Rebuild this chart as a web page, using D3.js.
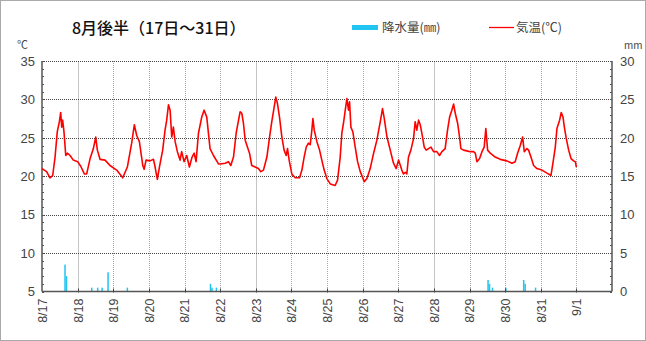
<!DOCTYPE html>
<html><head><meta charset="utf-8">
<script src="https://cdn.jsdelivr.net/npm/d3@7"></script>
<style>
html,body{margin:0;padding:0;background:#fff;}
svg{display:block;}
text{font-family:"Noto Sans CJK JP","Noto Sans",sans-serif;}
</style></head>
<body><svg id="c" width="646" height="341"></svg>
<script>
// ---- data (hours since 8/17 00:00) ----
const tempHours = [0,3.1,5.4,7.2,8.8,10.3,11.7,12.6,13.3,13.9,14.8,16.0,17.1,18.9,21.1,24.0,26.1,28.5,30.1,32.4,34.6,36.2,37.3,39.1,42.5,45.8,50.3,54.4,57.5,60.4,62.2,63.8,65.6,67.9,68.8,70.1,72.8,75.1,76.2,77.7,79.1,81.3,82.9,84.0,85.2,86.3,87.4,88.5,89.7,91.2,93.0,94.1,95.7,97.5,99.3,101.1,102.5,103.8,105.4,107.6,109.2,111.0,113.2,115.5,118.9,
120,123.4,125.6,127.2,129.0,130.8,132.4,133.5,134.6,135.7,136.9,138.4,139.8,141.3,143.6,145.8,147.4,149.2,151.5,153.3,154.8,156.4,157.5,158.6,160.0,161.6,163.1,164.5,165.4,166.5,168.3,170.6,173.5,175.1,176.6,178.0,179.5,180.7,181.8,182.5,183.4,185.2,187.0,188.5,190.1,191.9,194.2,197.5,199.1,200.9,202.0,203.1,204.3,205.4,206.5,207.2,208.1,209.4,211.0,212.6,214.4,217.1,218.9,221.1,223.4,225.6,227.9,229.4,230.6,232.4,234.6,236.8,238.6,240.2,
242.4,243.5,244.7,245.8,246.9,248.5,250.3,251.4,252.5,253.7,254.8,255.9,257.5,258.8,260.4,262.0,263.8,266.0,267.8,269.4,271.6,273.2,274.6,276.1,277.3,278.4,280.0,281.3,282.2,284.0,286.2,288.5,290.7,291.9,293.0,294.8,296.4,297.9,299.0,300.2,302.0,305.3,308.7,313.2,316.6,318.8,320.4,322.2,323.8,324.9,326.7,327.8,329.4,331.2,333.4,336.8,340.2,342.9,344.2,345.8,346.9,348.7,349.8,351.0,351.9,353.2,354.8,356.4,358.1,359.3,360.0];
const tempValues = [21.0,20.6,19.8,20.1,22.5,25.8,27.1,28.3,26.4,27.3,25.8,22.7,23.0,22.7,22.1,21.9,21.3,20.3,20.3,22.3,23.6,25.1,23.4,22.2,22.1,21.4,20.8,19.8,21.2,24.3,26.7,25.3,24.5,21.4,20.9,22.1,22.0,22.2,21.2,19.6,21.2,23.4,26.0,27.3,29.3,28.6,25.1,26.4,24.5,23.2,22.1,23.2,21.9,22.7,21.2,22.5,23.0,21.9,25.6,27.7,28.6,27.7,23.6,22.7,21.6,
21.6,21.7,21.9,21.4,22.5,25.6,27.3,28.4,28.2,26.9,24.7,23.8,23.0,21.4,21.2,21.0,20.6,20.8,22.5,25.1,27.1,29.0,30.3,29.5,27.7,25.1,23.4,22.7,23.6,22.1,20.3,19.8,19.8,20.8,22.5,23.8,24.3,24.1,26.0,27.5,26.0,24.5,23.4,22.1,20.8,19.7,19.0,18.8,19.5,22.5,25.6,26.9,28.6,30.1,28.6,29.7,26.4,25.8,23.8,21.9,20.6,19.3,19.7,21.0,23.0,24.7,27.1,28.8,27.5,25.1,23.4,21.7,21.0,22.1,
20.8,20.3,20.5,20.3,22.5,23.4,24.9,27.1,26.0,27.3,26.7,25.6,23.8,23.4,23.6,23.8,23.2,23.2,22.7,23.2,23.6,26.0,27.7,28.6,29.4,28.2,26.9,25.1,23.6,23.4,23.3,23.2,23.2,23.0,21.9,22.3,23.2,23.8,26.2,23.4,23.0,22.5,22.2,22.0,21.7,21.9,23.0,24.0,25.1,23.2,23.6,23.4,22.5,21.4,21.0,20.8,20.4,20.1,21.7,23.8,26.2,27.3,28.3,27.7,26.4,24.9,23.4,22.3,22.0,21.9,21.2];
const rainHours  = [15,16,33,37,40,44,57,113,114,117,300,301,303,312,324,325,332];
const rainValues = [3.5,2.0,0.5,0.5,0.5,2.5,0.5,1.0,0.5,0.5,1.5,1.0,0.5,0.5,1.5,1.0,0.5];
const dayLabels = ["8/17","8/18","8/19","8/20","8/21","8/22","8/23","8/24","8/25","8/26","8/27","8/28","8/29","8/30","8/31","9/1"];
const tempTicks = [5,10,15,20,25,30,35];
const rainTicks = [0,5,10,15,20,25,30];
const titleText = "8月後半（17日～31日）";

// ---- layout ----
const svg = d3.select("#c");
const L = 42, R = 612, T = 61, B = 291.5;
const x = d3.scaleLinear().domain([0, 384]).range([L, R]);
const yT = d3.scaleLinear().domain([5, 35]).range([B, T]);
const yR = d3.scaleLinear().domain([0, 30]).range([B, T]);

// outer dotted border
svg.append("rect").attr("x",0.5).attr("y",0.5).attr("width",645).attr("height",340)
  .attr("fill","none").attr("stroke","#555").attr("stroke-dasharray","1,1");

// vertical grid
dayLabels.forEach((d,i)=>{
  if(i===0) return;
  const xx = Math.round(x(i*24))+0.5;
  const solid = (i%5===1);
  svg.append("line").attr("x1",xx).attr("x2",xx).attr("y1",T).attr("y2",B)
    .attr("stroke", solid ? "#c4c4c4" : "#a8a8a8")
    .attr("stroke-dasharray", solid ? null : "1,1");
});
// horizontal grid
tempTicks.forEach(v=>{
  if(v===5) return;
  const yy = Math.round(yT(v))+0.5;
  svg.append("line").attr("x1",L).attr("x2",R).attr("y1",yy).attr("y2",yy)
    .attr("stroke","#444").attr("stroke-dasharray","1,1");
});

// rain bars
const rain = rainHours.map((h,i)=>({h, v: rainValues[i]}));
svg.append("g").selectAll("rect").data(rain).join("rect")
  .attr("x", d=>x(d.h)).attr("width", 1.5)
  .attr("y", d=>yR(d.v)).attr("height", d=>B - yR(d.v))
  .attr("fill","#22c4f2");

// axes lines
svg.append("line").attr("x1",L).attr("x2",L).attr("y1",T).attr("y2",B).attr("stroke","#555").attr("stroke-width",1.5);
svg.append("line").attr("x1",R).attr("x2",R).attr("y1",T).attr("y2",B).attr("stroke","#555").attr("stroke-width",1.5);
svg.append("line").attr("x1",L).attr("x2",R).attr("y1",B).attr("y2",B).attr("stroke","#555").attr("stroke-width",1.5);

// axes via d3
const leftAxis = d3.axisLeft(yT).tickValues(tempTicks).tickSize(0).tickPadding(6);
const gl = svg.append("g").attr("transform",`translate(${L-1},0)`).call(leftAxis);
const rightAxis = d3.axisRight(yR).tickValues(rainTicks).tickSize(0).tickPadding(8);
const gr = svg.append("g").attr("transform",`translate(${R},0)`).call(rightAxis);
[gl,gr].forEach(g=>{
  g.select(".domain").remove();
  g.selectAll("text").attr("font-size",13).attr("fill","#444")
    .style("font-family","'Liberation Sans',Arial,sans-serif");
});
// minor ticks
d3.range(5,36).forEach(v=>{
  const yy = Math.round(yT(v))+0.5;
  svg.append("line").attr("x1",L).attr("x2",L+2).attr("y1",yy).attr("y2",yy).attr("stroke","#555");
});
d3.range(0,31).forEach(v=>{
  const yy = Math.round(yR(v))+0.5;
  svg.append("line").attr("x1",R-2).attr("x2",R).attr("y1",yy).attr("y2",yy).attr("stroke","#555");
});
// bottom axis
const bottomAxis = d3.axisBottom(x).tickValues(d3.range(0,16).map(i=>i*24))
  .tickFormat((d,i)=>dayLabels[i]).tickSize(0).tickPadding(0);
const gb = svg.append("g").attr("transform",`translate(0,${B})`).call(bottomAxis);
gb.select(".domain").remove();
gb.selectAll("text").attr("font-size",12.5).attr("fill","#444")
  .style("font-family","'Liberation Sans',Arial,sans-serif")
  .attr("text-anchor","end").attr("dy","0.35em").attr("y",0)
  .attr("transform","translate(0,7) rotate(-90)").attr("x",0);
d3.range(1,16).forEach(i=>{
  const xx = Math.round(x(i*24))+0.5;
  svg.append("line").attr("x1",xx).attr("x2",xx).attr("y1",B-3).attr("y2",B+1).attr("stroke","#444");
});

// temperature line
const temp = tempHours.map((h,i)=>({h, v: tempValues[i]}));
svg.append("path").datum(temp)
  .attr("d", d3.line().x(d=>x(d.h)).y(d=>yT(d.v)))
  .attr("fill","none").attr("stroke","#ff0000").attr("stroke-width",1.6)
  .attr("stroke-linejoin","round");

// title & units
svg.append("text").attr("x",72).attr("y",34).attr("font-size",16).attr("font-weight",500)
  .attr("fill","#111").text(titleText);
svg.append("text").attr("x",17).attr("y",49).attr("font-size",11).attr("fill","#444").text("℃");
svg.append("text").attr("x",624).attr("y",49).attr("font-size",10).attr("fill","#444").text("mm");

// legend
svg.append("rect").attr("x",352).attr("y",25).attr("width",26).attr("height",5).attr("fill","#22c4f2");
svg.append("text").attr("x",382).attr("y",32).attr("font-size",12.5).attr("fill","#444").text("降水量(㎜)");
svg.append("line").attr("x1",489).attr("x2",514).attr("y1",27.5).attr("y2",27.5).attr("stroke","#ff0000").attr("stroke-width",1.3);
svg.append("text").attr("x",516).attr("y",32).attr("font-size",12.5).attr("fill","#444").text("気温(℃)");
</script></body></html>
